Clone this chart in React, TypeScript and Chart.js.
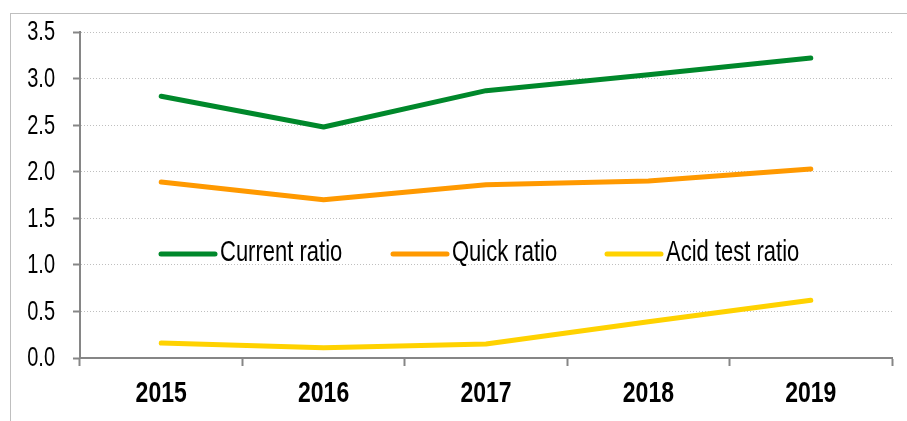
import React, { useEffect, useRef } from "react";
import { Chart, registerables } from "chart.js";

Chart.register(...registerables);

const years = ["2015", "2016", "2017", "2018", "2019"];
const currentRatio = [2.81, 2.48, 2.87, 3.04, 3.22];
const quickRatio = [1.89, 1.70, 1.86, 1.90, 2.03];
const acidTestRatio = [0.16, 0.11, 0.15, 0.39, 0.62];
const seriesNames = ["Current ratio", "Quick ratio", "Acid test ratio"];
const seriesColors = ["#00882B", "#FF9900", "#FFD200"];

const FONT = "'Liberation Sans', Arial, sans-serif";

function tallText(ctx: any, text: string, x: number, y: number, font: string, align: string, k: number) {
  ctx.save();
  ctx.font = font;
  ctx.fillStyle = "#000";
  ctx.textAlign = align;
  ctx.textBaseline = "middle";
  ctx.translate(x, y);
  ctx.scale(1, k);
  ctx.fillText(text, 0, 0);
  ctx.restore();
}

const labelPlugin = {
  id: "tallLabels",
  afterDraw(chart: any) {
    const ctx = chart.ctx;
    const xs = chart.scales.x;
    const ys = chart.scales.y;
    ys.ticks.forEach((t: any, i: number) => {
      const py = ys.getPixelForTick(i);
      tallText(ctx, Number(t.value).toFixed(1), xs.left - 25, py + 1, `20px ${FONT}`, "right", 1.35);
    });
    xs.ticks.forEach((t: any, i: number) => {
      const px = xs.getPixelForTick(i);
      tallText(ctx, String(chart.data.labels[i]), px, ys.bottom + 36, `bold 23px ${FONT}`, "center", 1.3);
    });
    // legend inside plot
    const area = chart.chartArea;
    const y = area.top + (area.bottom - area.top) * 0.681;
    const starts = [161, 393, 607];
    seriesNames.forEach((name, i) => {
      const x = starts[i];
      ctx.save();
      ctx.strokeStyle = seriesColors[i];
      ctx.lineWidth = 5;
      ctx.lineCap = "round";
      ctx.beginPath();
      ctx.moveTo(x, y);
      ctx.lineTo(x + 54, y);
      ctx.stroke();
      ctx.restore();
      tallText(ctx, name, x + 59, y - 1, `22px ${FONT}`, "left", 1.3);
    });
  },
};

export default function App() {
  const ref = useRef<HTMLCanvasElement>(null);
  useEffect(() => {
    const data = [currentRatio, quickRatio, acidTestRatio];
    const chart = new Chart(ref.current as HTMLCanvasElement, {
      type: "line",
      data: {
        labels: years,
        datasets: data.map((d, i) => ({
          label: seriesNames[i],
          data: d,
          borderColor: seriesColors[i],
          backgroundColor: seriesColors[i],
          borderWidth: 5,
          borderCapStyle: "round",
          borderJoinStyle: "round",
          pointRadius: 0,
          tension: 0,
          fill: false,
        })),
      },
      options: {
        animation: false,
        responsive: false,
        maintainAspectRatio: false,
        layout: { padding: { left: 0, right: 15, top: 32, bottom: 0 } },
        plugins: { legend: { display: false }, tooltip: { enabled: false } },
        scales: {
          x: {
            offset: true,
            grid: {
              offset: true,
              drawOnChartArea: false,
              drawTicks: true,
              tickLength: 8,
              tickColor: "#868686",
              tickWidth: 2,
            },
            border: { color: "#868686", width: 2 },
            ticks: { display: false },
            afterFit(scale: any) {
              scale.height = 63;
            },
          },
          y: {
            min: 0,
            max: 3.5,
            ticks: { display: false, stepSize: 0.5 },
            grid: {
              color: "#BFBFBF",
              lineWidth: 1,
              tickLength: 7,
              tickColor: "#868686",
              tickWidth: 2,
              tickBorderDash: [],
            },
            border: { color: "#868686", width: 2, dash: [1, 2] },
            afterFit(scale: any) {
              scale.width = 80;
            },
          },
        },
      },
      plugins: [labelPlugin],
    } as any);
    return () => chart.destroy();
  }, []);
  return (
    <div style={{ position: "fixed", left: 0, top: 0, width: 907, height: 421, background: "#fff", overflow: "hidden" }}>
      <div style={{ position: "absolute", left: 10, top: 13, width: 920, height: 430, border: "1px solid #BFBFBF", boxSizing: "border-box" }} />
      <canvas ref={ref} width={907} height={421} style={{ position: "absolute", left: 0, top: 0 }} />
    </div>
  );
}
